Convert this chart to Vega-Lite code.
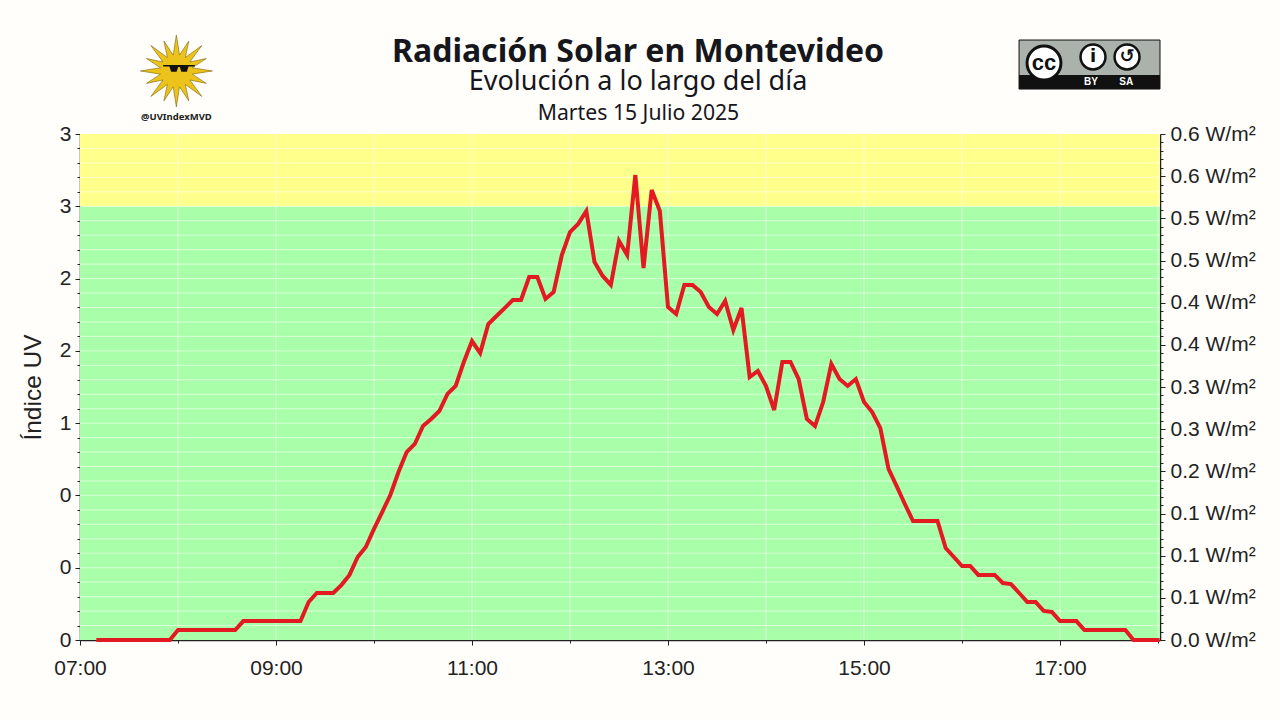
{
  "$schema": "https://vega.github.io/schema/vega-lite/v6.json",
  "width": 1080,
  "height": 506,
  "autosize": {"type": "none"},
  "padding": {"left": 80, "top": 134, "right": 120, "bottom": 80},
  "background": "#fffefa",
  "title": {
    "text": "Radiación Solar en Montevideo",
    "subtitle": "Evolución a lo largo del día",
    "anchor": "middle",
    "dx": 18,
    "offset": -62,
    "font": "Noto Sans",
    "fontSize": 32,
    "fontWeight": "bold",
    "color": "#16161d",
    "subtitleFont": "Noto Sans",
    "subtitleFontSize": 27,
    "subtitleColor": "#16161d",
    "subtitlePadding": 0
  },
  "config": {
    "view": {"stroke": null},
    "axis": {
      "grid": false,
      "labelFont": "Liberation Sans",
      "labelFontSize": 21,
      "labelColor": "#222222",
      "labelFlush": false,
      "titleFont": "Liberation Sans",
      "titleColor": "#222222",
      "titleFontWeight": "normal",
      "tickColor": "#222222",
      "domainColor": "#222222",
      "domainWidth": 1.5
    }
  },
  "resolve": {
    "scale": {"y": "independent"},
    "axis": {"x": "independent", "y": "independent"}
  },
  "layer": [
    {
      "data": {"values": [
        {"zona": "bajo", "desde": 0, "hasta": 3},
        {"zona": "moderado", "desde": 3, "hasta": 3.5}
      ]},
      "mark": {"type": "rect"},
      "encoding": {
        "y": {
          "field": "desde", "type": "quantitative",
          "scale": {"domain": [0, 3.5], "nice": false},
          "axis": {
            "orient": "left", "title": "Índice UV", "titleFontSize": 24.5, "titlePadding": 14,
            "values": [0, 0.5, 1, 1.5, 2, 2.5, 3, 3.5],
            "labelExpr": "['0','0','0','1','2','2','3','3'][round(datum.value*2)]",
            "tickSize": 5, "labelPadding": 4
          }
        },
        "y2": {"field": "hasta"},
        "color": {
          "field": "zona", "type": "nominal", "legend": null,
          "scale": {"domain": ["bajo", "moderado"], "range": ["#a9ffa9", "#ffff8c"]}
        }
      }
    },
    {
      "data": {"values": [
        {"uv": 0.1}, {"uv": 0.2}, {"uv": 0.3}, {"uv": 0.4}, {"uv": 0.5}, {"uv": 0.6}, {"uv": 0.7}, {"uv": 0.8}, {"uv": 0.9}, {"uv": 1},
        {"uv": 1.1}, {"uv": 1.2}, {"uv": 1.3}, {"uv": 1.4}, {"uv": 1.5}, {"uv": 1.6}, {"uv": 1.7}, {"uv": 1.8}, {"uv": 1.9}, {"uv": 2},
        {"uv": 2.1}, {"uv": 2.2}, {"uv": 2.3}, {"uv": 2.4}, {"uv": 2.5}, {"uv": 2.6}, {"uv": 2.7}, {"uv": 2.8}, {"uv": 2.9}, {"uv": 3},
        {"uv": 3.1}, {"uv": 3.2}, {"uv": 3.3}, {"uv": 3.4}
      ]},
      "mark": {"type": "rule", "color": "#ffffff", "opacity": 0.55, "strokeWidth": 1},
      "encoding": {
        "y": {
          "field": "uv", "type": "quantitative",
          "scale": {"domain": [0, 3.5], "nice": false},
          "axis": {
            "orient": "left", "title": null, "labels": false, "domain": false, "tickSize": 3,
            "values": [0.1, 0.2, 0.3, 0.4, 0.6, 0.7, 0.8, 0.9, 1.1, 1.2, 1.3, 1.4, 1.6, 1.7, 1.8, 1.9, 2.1, 2.2, 2.3, 2.4, 2.6, 2.7, 2.8, 2.9, 3.1, 3.2, 3.3, 3.4]
          }
        }
      }
    },
    {
      "data": {"values": [
        {"hora": "2025-07-15T08:00:00Z"}, {"hora": "2025-07-15T09:00:00Z"}, {"hora": "2025-07-15T10:00:00Z"},
        {"hora": "2025-07-15T11:00:00Z"}, {"hora": "2025-07-15T12:00:00Z"}, {"hora": "2025-07-15T13:00:00Z"},
        {"hora": "2025-07-15T14:00:00Z"}, {"hora": "2025-07-15T15:00:00Z"}, {"hora": "2025-07-15T16:00:00Z"},
        {"hora": "2025-07-15T17:00:00Z"}, {"hora": "2025-07-15T18:00:00Z"}
      ]},
      "mark": {"type": "rule", "color": "#ffffff", "opacity": 0.55, "strokeWidth": 1},
      "encoding": {
        "x": {
          "field": "hora", "type": "temporal",
          "scale": {"type": "utc", "domain": [{"year": 2025, "month": 7, "date": 15, "hours": 7, "utc": true}, {"year": 2025, "month": 7, "date": 15, "hours": 18, "minutes": 1, "seconds": 13, "utc": true}]},
          "axis": {
            "orient": "bottom", "title": null, "labels": false, "domain": false, "tickSize": 3,
            "values": [
              {"year": 2025, "month": 7, "date": 15, "hours": 8, "utc": true},
              {"year": 2025, "month": 7, "date": 15, "hours": 10, "utc": true},
              {"year": 2025, "month": 7, "date": 15, "hours": 12, "utc": true},
              {"year": 2025, "month": 7, "date": 15, "hours": 14, "utc": true},
              {"year": 2025, "month": 7, "date": 15, "hours": 16, "utc": true},
              {"year": 2025, "month": 7, "date": 15, "hours": 18, "utc": true}
            ]
          }
        }
      }
    },
    {
      "data": {"values": [
        {"hora": "2025-07-15T07:10:00Z", "uv": 0}, {"hora": "2025-07-15T07:15:00Z", "uv": 0}, {"hora": "2025-07-15T07:20:00Z", "uv": 0},
        {"hora": "2025-07-15T07:25:00Z", "uv": 0}, {"hora": "2025-07-15T07:30:00Z", "uv": 0}, {"hora": "2025-07-15T07:35:00Z", "uv": 0},
        {"hora": "2025-07-15T07:40:00Z", "uv": 0}, {"hora": "2025-07-15T07:45:00Z", "uv": 0}, {"hora": "2025-07-15T07:50:00Z", "uv": 0},
        {"hora": "2025-07-15T07:55:00Z", "uv": 0}, {"hora": "2025-07-15T08:00:00Z", "uv": 0.069}, {"hora": "2025-07-15T08:05:00Z", "uv": 0.069},
        {"hora": "2025-07-15T08:10:00Z", "uv": 0.069}, {"hora": "2025-07-15T08:15:00Z", "uv": 0.069}, {"hora": "2025-07-15T08:20:00Z", "uv": 0.069},
        {"hora": "2025-07-15T08:25:00Z", "uv": 0.069}, {"hora": "2025-07-15T08:30:00Z", "uv": 0.069}, {"hora": "2025-07-15T08:35:00Z", "uv": 0.069},
        {"hora": "2025-07-15T08:40:00Z", "uv": 0.131}, {"hora": "2025-07-15T08:45:00Z", "uv": 0.131}, {"hora": "2025-07-15T08:50:00Z", "uv": 0.131},
        {"hora": "2025-07-15T08:55:00Z", "uv": 0.131}, {"hora": "2025-07-15T09:00:00Z", "uv": 0.131}, {"hora": "2025-07-15T09:05:00Z", "uv": 0.131},
        {"hora": "2025-07-15T09:10:00Z", "uv": 0.131}, {"hora": "2025-07-15T09:15:00Z", "uv": 0.131}, {"hora": "2025-07-15T09:20:00Z", "uv": 0.263},
        {"hora": "2025-07-15T09:25:00Z", "uv": 0.325}, {"hora": "2025-07-15T09:30:00Z", "uv": 0.325}, {"hora": "2025-07-15T09:35:00Z", "uv": 0.325},
        {"hora": "2025-07-15T09:40:00Z", "uv": 0.38}, {"hora": "2025-07-15T09:45:00Z", "uv": 0.45}, {"hora": "2025-07-15T09:50:00Z", "uv": 0.574},
        {"hora": "2025-07-15T09:55:00Z", "uv": 0.643}, {"hora": "2025-07-15T10:00:00Z", "uv": 0.768}, {"hora": "2025-07-15T10:05:00Z", "uv": 0.885},
        {"hora": "2025-07-15T10:10:00Z", "uv": 1.003}, {"hora": "2025-07-15T10:15:00Z", "uv": 1.162}, {"hora": "2025-07-15T10:20:00Z", "uv": 1.3},
        {"hora": "2025-07-15T10:25:00Z", "uv": 1.356}, {"hora": "2025-07-15T10:30:00Z", "uv": 1.48}, {"hora": "2025-07-15T10:35:00Z", "uv": 1.529},
        {"hora": "2025-07-15T10:40:00Z", "uv": 1.584}, {"hora": "2025-07-15T10:45:00Z", "uv": 1.702}, {"hora": "2025-07-15T10:50:00Z", "uv": 1.757},
        {"hora": "2025-07-15T10:55:00Z", "uv": 1.923}, {"hora": "2025-07-15T11:00:00Z", "uv": 2.068}, {"hora": "2025-07-15T11:05:00Z", "uv": 1.985},
        {"hora": "2025-07-15T11:10:00Z", "uv": 2.186}, {"hora": "2025-07-15T11:15:00Z", "uv": 2.241}, {"hora": "2025-07-15T11:20:00Z", "uv": 2.296},
        {"hora": "2025-07-15T11:25:00Z", "uv": 2.352}, {"hora": "2025-07-15T11:30:00Z", "uv": 2.352}, {"hora": "2025-07-15T11:35:00Z", "uv": 2.511},
        {"hora": "2025-07-15T11:40:00Z", "uv": 2.511}, {"hora": "2025-07-15T11:45:00Z", "uv": 2.359}, {"hora": "2025-07-15T11:50:00Z", "uv": 2.407},
        {"hora": "2025-07-15T11:55:00Z", "uv": 2.663}, {"hora": "2025-07-15T12:00:00Z", "uv": 2.822}, {"hora": "2025-07-15T12:05:00Z", "uv": 2.878},
        {"hora": "2025-07-15T12:10:00Z", "uv": 2.967}, {"hora": "2025-07-15T12:15:00Z", "uv": 2.615}, {"hora": "2025-07-15T12:20:00Z", "uv": 2.518},
        {"hora": "2025-07-15T12:25:00Z", "uv": 2.456}, {"hora": "2025-07-15T12:30:00Z", "uv": 2.76}, {"hora": "2025-07-15T12:35:00Z", "uv": 2.663},
        {"hora": "2025-07-15T12:40:00Z", "uv": 3.216}, {"hora": "2025-07-15T12:45:00Z", "uv": 2.573}, {"hora": "2025-07-15T12:50:00Z", "uv": 3.113},
        {"hora": "2025-07-15T12:55:00Z", "uv": 2.967}, {"hora": "2025-07-15T13:00:00Z", "uv": 2.303}, {"hora": "2025-07-15T13:05:00Z", "uv": 2.255},
        {"hora": "2025-07-15T13:10:00Z", "uv": 2.456}, {"hora": "2025-07-15T13:15:00Z", "uv": 2.456}, {"hora": "2025-07-15T13:20:00Z", "uv": 2.407},
        {"hora": "2025-07-15T13:25:00Z", "uv": 2.303}, {"hora": "2025-07-15T13:30:00Z", "uv": 2.255}, {"hora": "2025-07-15T13:35:00Z", "uv": 2.345},
        {"hora": "2025-07-15T13:40:00Z", "uv": 2.144}, {"hora": "2025-07-15T13:45:00Z", "uv": 2.296}, {"hora": "2025-07-15T13:50:00Z", "uv": 1.819},
        {"hora": "2025-07-15T13:55:00Z", "uv": 1.861}, {"hora": "2025-07-15T14:00:00Z", "uv": 1.757}, {"hora": "2025-07-15T14:05:00Z", "uv": 1.591},
        {"hora": "2025-07-15T14:10:00Z", "uv": 1.923}, {"hora": "2025-07-15T14:15:00Z", "uv": 1.923}, {"hora": "2025-07-15T14:20:00Z", "uv": 1.805},
        {"hora": "2025-07-15T14:25:00Z", "uv": 1.529}, {"hora": "2025-07-15T14:30:00Z", "uv": 1.48}, {"hora": "2025-07-15T14:35:00Z", "uv": 1.646},
        {"hora": "2025-07-15T14:40:00Z", "uv": 1.909}, {"hora": "2025-07-15T14:45:00Z", "uv": 1.805}, {"hora": "2025-07-15T14:50:00Z", "uv": 1.757},
        {"hora": "2025-07-15T14:55:00Z", "uv": 1.805}, {"hora": "2025-07-15T15:00:00Z", "uv": 1.646}, {"hora": "2025-07-15T15:05:00Z", "uv": 1.577},
        {"hora": "2025-07-15T15:10:00Z", "uv": 1.466}, {"hora": "2025-07-15T15:15:00Z", "uv": 1.183}, {"hora": "2025-07-15T15:20:00Z", "uv": 1.065},
        {"hora": "2025-07-15T15:25:00Z", "uv": 0.941}, {"hora": "2025-07-15T15:30:00Z", "uv": 0.823}, {"hora": "2025-07-15T15:35:00Z", "uv": 0.823},
        {"hora": "2025-07-15T15:40:00Z", "uv": 0.823}, {"hora": "2025-07-15T15:45:00Z", "uv": 0.823}, {"hora": "2025-07-15T15:50:00Z", "uv": 0.636},
        {"hora": "2025-07-15T15:55:00Z", "uv": 0.574}, {"hora": "2025-07-15T16:00:00Z", "uv": 0.512}, {"hora": "2025-07-15T16:05:00Z", "uv": 0.512},
        {"hora": "2025-07-15T16:10:00Z", "uv": 0.45}, {"hora": "2025-07-15T16:15:00Z", "uv": 0.45}, {"hora": "2025-07-15T16:20:00Z", "uv": 0.45},
        {"hora": "2025-07-15T16:25:00Z", "uv": 0.394}, {"hora": "2025-07-15T16:30:00Z", "uv": 0.387}, {"hora": "2025-07-15T16:35:00Z", "uv": 0.325},
        {"hora": "2025-07-15T16:40:00Z", "uv": 0.263}, {"hora": "2025-07-15T16:45:00Z", "uv": 0.263}, {"hora": "2025-07-15T16:50:00Z", "uv": 0.201},
        {"hora": "2025-07-15T16:55:00Z", "uv": 0.194}, {"hora": "2025-07-15T17:00:00Z", "uv": 0.131}, {"hora": "2025-07-15T17:05:00Z", "uv": 0.131},
        {"hora": "2025-07-15T17:10:00Z", "uv": 0.131}, {"hora": "2025-07-15T17:15:00Z", "uv": 0.069}, {"hora": "2025-07-15T17:20:00Z", "uv": 0.069},
        {"hora": "2025-07-15T17:25:00Z", "uv": 0.069}, {"hora": "2025-07-15T17:30:00Z", "uv": 0.069}, {"hora": "2025-07-15T17:35:00Z", "uv": 0.069},
        {"hora": "2025-07-15T17:40:00Z", "uv": 0.069}, {"hora": "2025-07-15T17:45:00Z", "uv": 0}, {"hora": "2025-07-15T17:50:00Z", "uv": 0},
        {"hora": "2025-07-15T17:55:00Z", "uv": 0}, {"hora": "2025-07-15T18:00:00Z", "uv": 0}, {"hora": "2025-07-15T18:01:00Z", "uv": 0}
      ]},
      "mark": {"type": "line", "color": "#e31a22", "strokeWidth": 4, "strokeJoin": "miter"},
      "encoding": {
        "x": {
          "field": "hora", "type": "temporal",
          "scale": {"type": "utc", "domain": [{"year": 2025, "month": 7, "date": 15, "hours": 7, "utc": true}, {"year": 2025, "month": 7, "date": 15, "hours": 18, "minutes": 1, "seconds": 13, "utc": true}]},
          "axis": {
            "orient": "bottom", "title": null, "format": "%H:%M", "tickSize": 5, "labelPadding": 12,
            "values": [
              {"year": 2025, "month": 7, "date": 15, "hours": 7, "utc": true},
              {"year": 2025, "month": 7, "date": 15, "hours": 9, "utc": true},
              {"year": 2025, "month": 7, "date": 15, "hours": 11, "utc": true},
              {"year": 2025, "month": 7, "date": 15, "hours": 13, "utc": true},
              {"year": 2025, "month": 7, "date": 15, "hours": 15, "utc": true},
              {"year": 2025, "month": 7, "date": 15, "hours": 17, "utc": true}
            ]
          }
        },
        "y": {"field": "uv", "type": "quantitative", "scale": {"domain": [0, 3.5], "nice": false}, "axis": null}
      }
    },
    {
      "data": {"values": [{"radiacion": 0}, {"radiacion": 0.6}]},
      "mark": {"type": "rule", "opacity": 0},
      "encoding": {
        "y": {
          "field": "radiacion", "type": "quantitative",
          "scale": {"domain": [0, 0.6], "nice": false},
          "axis": {
            "orient": "right", "title": null, "tickSize": 5, "labelPadding": 5,
            "values": [0, 0.05, 0.1, 0.15, 0.2, 0.25, 0.3, 0.35, 0.4, 0.45, 0.5, 0.55, 0.6],
            "labelExpr": "['0.0','0.1','0.1','0.1','0.2','0.3','0.3','0.4','0.4','0.5','0.5','0.6','0.6'][round(datum.value*20)] + ' W/m²'"
          }
        }
      }
    },
    {
      "data": {"values": [{"radiacion": 0}, {"radiacion": 0.6}]},
      "mark": {"type": "rule", "opacity": 0},
      "encoding": {
        "y": {
          "field": "radiacion", "type": "quantitative",
          "scale": {"domain": [0, 0.6], "nice": false},
          "axis": {
            "orient": "right", "title": null, "labels": false, "domain": false, "tickSize": 3,
            "values": [0.01, 0.02, 0.03, 0.04, 0.06, 0.07, 0.08, 0.09, 0.11, 0.12, 0.13, 0.14, 0.16, 0.17, 0.18, 0.19, 0.21, 0.22, 0.23, 0.24, 0.26, 0.27, 0.28, 0.29, 0.31, 0.32, 0.33, 0.34, 0.36, 0.37, 0.38, 0.39, 0.41, 0.42, 0.43, 0.44, 0.46, 0.47, 0.48, 0.49, 0.51, 0.52, 0.53, 0.54, 0.56, 0.57, 0.58, 0.59]
          }
        }
      }
    },
    {
      "data": {"values": [{"hora": "2025-07-15T12:30:00Z"}]},
      "mark": {"type": "rule", "opacity": 0},
      "encoding": {
        "x": {
          "field": "hora", "type": "temporal",
          "scale": {"type": "utc", "domain": [{"year": 2025, "month": 7, "date": 15, "hours": 7, "utc": true}, {"year": 2025, "month": 7, "date": 15, "hours": 18, "minutes": 1, "seconds": 13, "utc": true}]},
          "axis": {
            "orient": "top", "title": "Martes 15 Julio 2025", "titleFont": "Noto Sans", "titleFontSize": 21.2, "titleColor": "#16161d",
            "titleX": 558, "titlePadding": 11, "labels": false, "ticks": false, "domain": false, "values": []
          }
        }
      }
    },
    {
      "data": {"values": [
        {"t0": "2025-07-15T16:34:55Z", "t1": "2025-07-15T18:01:13Z", "y0": 3.811, "y1": 4.15}
      ]},
      "mark": {"type": "rect", "color": "#aab2ab", "stroke": "#111111", "strokeWidth": 1},
      "encoding": {
        "x": {"field": "t0", "type": "temporal", "axis": null, "scale": {"type": "utc", "domain": [{"year": 2025, "month": 7, "date": 15, "hours": 7, "utc": true}, {"year": 2025, "month": 7, "date": 15, "hours": 18, "minutes": 1, "seconds": 13, "utc": true}]}},
        "x2": {"field": "t1"},
        "y": {"field": "y0", "type": "quantitative", "axis": null, "scale": {"domain": [0, 3.5], "nice": false}},
        "y2": {"field": "y1"}
      }
    },
    {
      "data": {"values": [
        {"t0": "2025-07-15T16:34:55Z", "t1": "2025-07-15T18:01:13Z", "y0": 3.811, "y1": 3.908}
      ]},
      "mark": {"type": "rect", "color": "#111111"},
      "encoding": {
        "x": {"field": "t0", "type": "temporal", "axis": null, "scale": {"type": "utc", "domain": [{"year": 2025, "month": 7, "date": 15, "hours": 7, "utc": true}, {"year": 2025, "month": 7, "date": 15, "hours": 18, "minutes": 1, "seconds": 13, "utc": true}]}},
        "x2": {"field": "t1"},
        "y": {"field": "y0", "type": "quantitative", "axis": null, "scale": {"domain": [0, 3.5], "nice": false}},
        "y2": {"field": "y1"}
      }
    },
    {
      "data": {"values": [{"t": "2025-07-15T16:50:12Z", "y": 3.991}]},
      "mark": {"type": "point", "shape": "circle", "filled": true, "fill": "#ffffff", "stroke": "#111111", "strokeWidth": 3, "opacity": 1, "size": 1150},
      "encoding": {
        "x": {"field": "t", "type": "temporal", "axis": null, "scale": {"type": "utc", "domain": [{"year": 2025, "month": 7, "date": 15, "hours": 7, "utc": true}, {"year": 2025, "month": 7, "date": 15, "hours": 18, "minutes": 1, "seconds": 13, "utc": true}]}},
        "y": {"field": "y", "type": "quantitative", "axis": null, "scale": {"domain": [0, 3.5], "nice": false}}
      }
    },
    {
      "data": {"values": [{"t": "2025-07-15T17:20:12Z", "y": 4.033}, {"t": "2025-07-15T17:41:02Z", "y": 4.033}]},
      "mark": {"type": "point", "shape": "circle", "filled": true, "fill": "#ffffff", "stroke": "#111111", "strokeWidth": 2.5, "opacity": 1, "size": 620},
      "encoding": {
        "x": {"field": "t", "type": "temporal", "axis": null, "scale": {"type": "utc", "domain": [{"year": 2025, "month": 7, "date": 15, "hours": 7, "utc": true}, {"year": 2025, "month": 7, "date": 15, "hours": 18, "minutes": 1, "seconds": 13, "utc": true}]}},
        "y": {"field": "y", "type": "quantitative", "axis": null, "scale": {"domain": [0, 3.5], "nice": false}}
      }
    },
    {
      "data": {"values": [
        {"t": "2025-07-15T16:50:12Z", "y": 3.991, "texto": "cc"}
      ]},
      "mark": {"type": "text", "font": "Liberation Sans", "fontWeight": "bold", "fontSize": 22, "color": "#111111", "baseline": "middle"},
      "encoding": {
        "x": {"field": "t", "type": "temporal", "axis": null, "scale": {"type": "utc", "domain": [{"year": 2025, "month": 7, "date": 15, "hours": 7, "utc": true}, {"year": 2025, "month": 7, "date": 15, "hours": 18, "minutes": 1, "seconds": 13, "utc": true}]}},
        "y": {"field": "y", "type": "quantitative", "axis": null, "scale": {"domain": [0, 3.5], "nice": false}},
        "text": {"field": "texto"}
      }
    },
    {
      "data": {"values": [
        {"t": "2025-07-15T17:20:12Z", "y": 4.033, "texto": "i"},
        {"t": "2025-07-15T17:41:02Z", "y": 4.033, "texto": "↺"}
      ]},
      "mark": {"type": "text", "font": "DejaVu Sans", "fontWeight": "bold", "fontSize": 18, "color": "#111111", "baseline": "middle"},
      "encoding": {
        "x": {"field": "t", "type": "temporal", "axis": null, "scale": {"type": "utc", "domain": [{"year": 2025, "month": 7, "date": 15, "hours": 7, "utc": true}, {"year": 2025, "month": 7, "date": 15, "hours": 18, "minutes": 1, "seconds": 13, "utc": true}]}},
        "y": {"field": "y", "type": "quantitative", "axis": null, "scale": {"domain": [0, 3.5], "nice": false}},
        "text": {"field": "texto"}
      }
    },
    {
      "data": {"values": [
        {"t": "2025-07-15T17:19:00Z", "y": 3.86, "texto": "BY"},
        {"t": "2025-07-15T17:40:30Z", "y": 3.86, "texto": "SA"}
      ]},
      "mark": {"type": "text", "font": "Liberation Sans", "fontWeight": "bold", "fontSize": 10, "color": "#ffffff", "baseline": "middle"},
      "encoding": {
        "x": {"field": "t", "type": "temporal", "axis": null, "scale": {"type": "utc", "domain": [{"year": 2025, "month": 7, "date": 15, "hours": 7, "utc": true}, {"year": 2025, "month": 7, "date": 15, "hours": 18, "minutes": 1, "seconds": 13, "utc": true}]}},
        "y": {"field": "y", "type": "quantitative", "axis": null, "scale": {"domain": [0, 3.5], "nice": false}},
        "text": {"field": "texto"}
      }
    },
    {
      "data": {"values": [{"t": "2025-07-15T07:59:00Z", "y": 3.936}]},
      "mark": {
        "type": "point", "filled": true, "fill": "#ecc31a", "stroke": "#7a6410", "strokeWidth": 0.6, "opacity": 1, "size": 5184,
        "shape": "M1,0L.441,.088L.83,.345L.374,.25L.707,.707L.25,.374L.345,.83L.088,.441L0,1L-.088,.441L-.345,.83L-.25,.374L-.707,.707L-.374,.25L-.83,.345L-.441,.088L-1,0L-.441,-.088L-.83,-.345L-.374,-.25L-.707,-.707L-.25,-.374L-.345,-.83L-.088,-.441L0,-1L.088,-.441L.345,-.83L.25,-.374L.707,-.707L.374,-.25L.83,-.345L.441,-.088Z"
      },
      "encoding": {
        "x": {"field": "t", "type": "temporal", "axis": null, "scale": {"type": "utc", "domain": [{"year": 2025, "month": 7, "date": 15, "hours": 7, "utc": true}, {"year": 2025, "month": 7, "date": 15, "hours": 18, "minutes": 1, "seconds": 13, "utc": true}]}},
        "y": {"field": "y", "type": "quantitative", "axis": null, "scale": {"domain": [0, 3.5], "nice": false}}
      }
    },
    {
      "data": {"values": [{"t": "2025-07-15T08:00:36Z", "y": 3.964}]},
      "mark": {
        "type": "point", "filled": true, "fill": "#111111", "opacity": 1, "size": 1000,
        "shape": "M-1,-.12L1,-.12L1,-.02L.6,-.02L.5,.3L.15,.3L.05,0L-.05,0L-.15,.3L-.5,.3L-.6,-.02L-1,-.02Z"
      },
      "encoding": {
        "x": {"field": "t", "type": "temporal", "axis": null, "scale": {"type": "utc", "domain": [{"year": 2025, "month": 7, "date": 15, "hours": 7, "utc": true}, {"year": 2025, "month": 7, "date": 15, "hours": 18, "minutes": 1, "seconds": 13, "utc": true}]}},
        "y": {"field": "y", "type": "quantitative", "axis": null, "scale": {"domain": [0, 3.5], "nice": false}}
      }
    },
    {
      "data": {"values": [{"t": "2025-07-15T07:59:00Z", "y": 3.618, "texto": "@UVIndexMVD"}]},
      "mark": {"type": "text", "font": "Noto Sans", "fontWeight": "bold", "fontSize": 9.5, "color": "#222222", "baseline": "middle"},
      "encoding": {
        "x": {"field": "t", "type": "temporal", "axis": null, "scale": {"type": "utc", "domain": [{"year": 2025, "month": 7, "date": 15, "hours": 7, "utc": true}, {"year": 2025, "month": 7, "date": 15, "hours": 18, "minutes": 1, "seconds": 13, "utc": true}]}},
        "y": {"field": "y", "type": "quantitative", "axis": null, "scale": {"domain": [0, 3.5], "nice": false}},
        "text": {"field": "texto"}
      }
    }
  ]
}
